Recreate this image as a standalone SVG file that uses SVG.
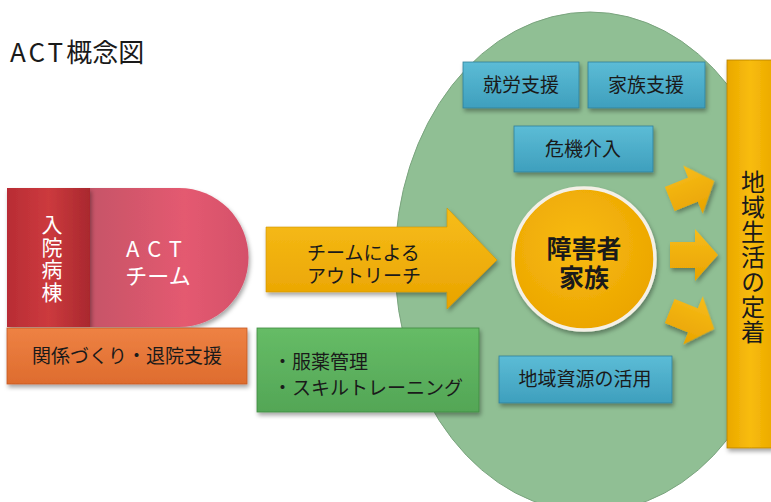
<svg xmlns="http://www.w3.org/2000/svg" width="771" height="502" viewBox="0 0 771 502">
<defs>
<style>
.t{font-family:"Noto Sans CJK JP","Noto Sans",sans-serif;fill:#1a1a1a}
.w{font-family:"Noto Sans CJK JP","Noto Sans",sans-serif;fill:#ffffff}
.v{writing-mode:vertical-rl;text-orientation:upright}
.blue{fill:url(#gBlue);stroke:#2f7f99;stroke-width:0.8}
.gold{fill:url(#gGold)}
</style>
<filter id="sh" x="-20%" y="-20%" width="140%" height="150%">
<feDropShadow dx="1.5" dy="3" stdDeviation="2" flood-color="#000" flood-opacity="0.35"/>
</filter>
<linearGradient id="gBlue" x1="0" y1="0" x2="0" y2="1">
<stop offset="0" stop-color="#5cbcd6"/><stop offset="1" stop-color="#3e9fbd"/>
</linearGradient>
<linearGradient id="gGold" x1="0" y1="0" x2="0" y2="1">
<stop offset="0" stop-color="#f7bd1a"/><stop offset="1" stop-color="#e9a300"/>
</linearGradient>
<linearGradient id="gBar" x1="0" y1="0" x2="1" y2="0">
<stop offset="0" stop-color="#eaa800"/><stop offset="0.5" stop-color="#f8bc0c"/><stop offset="1" stop-color="#ecaa00"/>
</linearGradient>
<linearGradient id="gRed" x1="0" y1="0" x2="1" y2="0">
<stop offset="0" stop-color="#b82c34"/><stop offset="0.5" stop-color="#cc3a3e"/><stop offset="1" stop-color="#a9282e"/>
</linearGradient>
<linearGradient id="gPink" x1="0" y1="0" x2="1" y2="0">
<stop offset="0" stop-color="#c65468"/><stop offset="0.6" stop-color="#e45a70"/><stop offset="1" stop-color="#d4506a"/>
</linearGradient>
<linearGradient id="gOrange" x1="0" y1="0" x2="0" y2="1">
<stop offset="0" stop-color="#ee8244"/><stop offset="1" stop-color="#de6c2e"/>
</linearGradient>
<linearGradient id="gGreen" x1="0" y1="0" x2="0" y2="1">
<stop offset="0" stop-color="#66bc66"/><stop offset="1" stop-color="#53a656"/>
</linearGradient>
<radialGradient id="gCircle" cx="0.45" cy="0.4" r="0.6">
<stop offset="0" stop-color="#f8bb12"/><stop offset="1" stop-color="#eca600"/>
</radialGradient>
<path id="smallArrow" d="M-24,-13 L1,-13 L1,-26 L24,0 L1,26 L1,13 L-24,13 Z"/>
</defs>

<rect width="771" height="502" fill="#ffffff"/>

<text class="t" x="10" y="62" font-size="26"><tspan letter-spacing="3">ACT</tspan>概念図</text>

<g id="community-ellipse">
<ellipse cx="590" cy="262" rx="195" ry="250" fill="#90bf94" stroke="#7aa47e" stroke-width="1"/>
</g>

<g id="chiiki-seikatsu">
<rect x="727" y="60" width="46" height="388" fill="url(#gBar)" stroke="#b67f00" stroke-width="0.8" filter="url(#sh)"/>
<text class="t v" x="753" y="170" font-size="24" letter-spacing="1">地域生活の定着</text>
</g>

<g id="shuro-shien">
<rect class="blue" x="463" y="62" width="116" height="46" filter="url(#sh)"/>
<text class="t" x="521" y="92" font-size="19" text-anchor="middle">就労支援</text>
</g>
<g id="kazoku-shien">
<rect class="blue" x="588" y="62" width="117" height="46" filter="url(#sh)"/>
<text class="t" x="646" y="92" font-size="19" text-anchor="middle">家族支援</text>
</g>
<g id="kiki-kainyu">
<rect class="blue" x="514" y="126" width="139" height="46" filter="url(#sh)"/>
<text class="t" x="583" y="156" font-size="19" text-anchor="middle">危機介入</text>
</g>
<g id="chiiki-shigen">
<rect class="blue" x="499" y="356" width="173" height="47" filter="url(#sh)"/>
<text class="t" x="585" y="386" font-size="19" text-anchor="middle">地域資源の活用</text>
</g>

<g id="shogaisha-kazoku">
<circle cx="584" cy="259" r="71" fill="url(#gCircle)" stroke="#f4f0e6" stroke-width="3.5" filter="url(#sh)"/>
<text class="t" font-size="25" font-weight="bold" text-anchor="middle"><tspan x="584" y="258">障害者</tspan><tspan x="584" y="287">家族</tspan></text>
</g>

<g id="connectors">
<use href="#smallArrow" class="gold" transform="translate(692,190) rotate(-22)" filter="url(#sh)"/>
<use href="#smallArrow" class="gold" transform="translate(694,255)" filter="url(#sh)"/>
<use href="#smallArrow" class="gold" transform="translate(692,320) rotate(22)" filter="url(#sh)"/>
</g>

<g id="outreach">
<path d="M266,227 L447,227 L447,208 L497,260 L447,309 L447,292 L266,292 Z" fill="url(#gGold)" stroke="#d19600" stroke-width="0.6" filter="url(#sh)"/>
<text class="t" font-size="19"><tspan x="307" y="260">チームによる</tspan><tspan x="307" y="283">アウトリーチ</tspan></text>
</g>

<g id="fukuyaku">
<rect x="257" y="328" width="222" height="84" fill="url(#gGreen)" stroke="#3f8a42" stroke-width="0.8" filter="url(#sh)"/>
<text class="t" font-size="19"><tspan x="273" y="369">・服薬管理</tspan><tspan x="273" y="395">・スキルトレーニング</tspan></text>
</g>

<g id="act-team">
<path d="M90,188 L179,188 A69.5,69.5 0 0 1 179,327 L90,327 Z" fill="url(#gPink)" filter="url(#sh)"/>
<text class="w" font-size="22" text-anchor="middle"><tspan x="158" y="257" letter-spacing="8">ACT</tspan><tspan x="158" y="284">チーム</tspan></text>
</g>

<g id="nyuin-byoto">
<rect x="7" y="188" width="83" height="139" fill="url(#gRed)" filter="url(#sh)"/>
<text class="w v" x="52" y="214" font-size="21" letter-spacing="1.5">入院病棟</text>
</g>

<g id="kankei-zukuri">
<rect x="7" y="328" width="240" height="56" fill="url(#gOrange)" stroke="#c45a22" stroke-width="0.8" filter="url(#sh)"/>
<text class="t" x="127" y="363" font-size="19" text-anchor="middle">関係づくり・退院支援</text>
</g>
</svg>
